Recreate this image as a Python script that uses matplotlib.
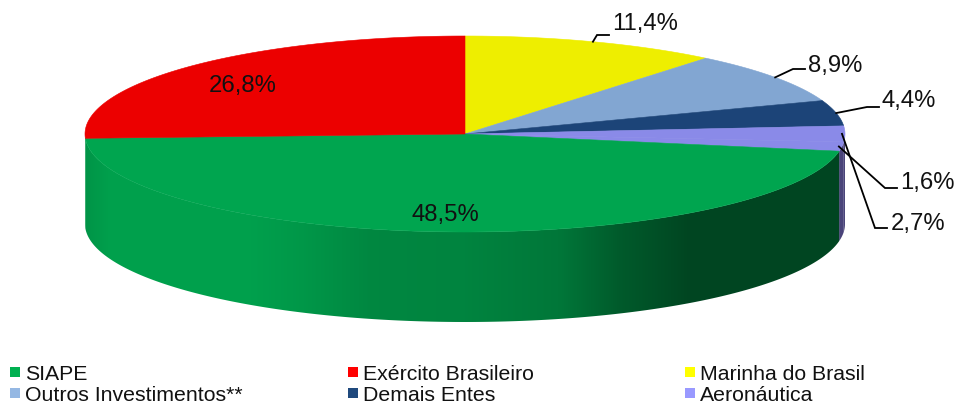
import numpy as np
import matplotlib
matplotlib.use('Agg')
import matplotlib.pyplot as plt
from matplotlib.patches import Polygon, Rectangle

plt.rcParams['font.family'] = ['Liberation Sans', 'DejaVu Sans']

# clockwise from the top of the pie
valores = [11.4, 8.9, 4.4, 2.7, 1.6, 48.5, 26.8]
rotulos = ['11,4%', '8,9%', '4,4%', '2,7%', '1,6%', '48,5%', '26,8%']
cores = ['#eeee00', '#82a6d2', '#1c4478', '#8a8ae8', '#8a8ae8', '#00a54f', '#ec0000']
laterais = ['#eeee00', '#82a6d2', '#1c4478', '#4a447a', '#4a447a', '#00a54f', '#00a54f']

legenda = ['SIAPE', 'Exército Brasileiro', 'Marinha do Brasil',
           'Outros Investimentos**', 'Demais Entes', 'Aeronáutica']
cores_legenda = ['#00b050', '#ff0000', '#ffff00', '#95b8e3', '#1f497d', '#9999ff']

cx, cy = 465, 135
rx, ry = 380, 98
altura = 90

# sombra da lateral, por posicao em x
sombra_x = [85, 110, 250, 300, 370, 465, 560, 620, 690, 845]
sombra_v = [0.90, 0.97, 0.97, 0.92, 0.82, 0.80, 0.72, 0.55, 0.42, 0.42]


def ponto(ang):
    return cx + rx * np.sin(ang), cy - ry * np.cos(ang)


fig = plt.figure(figsize=(9.56, 4.06), dpi=100)
ax = fig.add_axes([0, 0, 1, 1])
ax.axis('off')

limites = np.cumsum([0] + valores) / sum(valores) * 2 * np.pi

# lateral: gradiente recortado pela faixa de cada fatia
colunas = np.arange(cx - rx, cx + rx + 1)
for i in range(len(valores)):
    a0 = max(limites[i], np.pi / 2)
    a1 = min(limites[i + 1], 3 * np.pi / 2)
    if a1 <= a0:
        continue
    base = np.array(matplotlib.colors.to_rgb(laterais[i]))
    s = np.interp(colunas, sombra_x, sombra_v)
    if i in (3, 4):
        s = np.ones_like(s)
    grad = (s[:, None] * base)[None, :, :]
    x, y = ponto(np.linspace(a0, a1, 300))
    pts = list(zip(x, y)) + list(zip(x[::-1], y[::-1] + altura))
    faixa = Polygon(pts, fc='none', ec='none', transform=ax.transData)
    ax.add_patch(faixa)
    im = ax.imshow(grad, extent=(cx - rx, cx + rx, cy + ry + altura, cy - ry), aspect='auto',
                   interpolation='bilinear')
    im.set_clip_path(faixa)

ax.set_xlim(0, 956)
ax.set_ylim(406, 0)

# topo
for i in range(len(valores)):
    angs = np.linspace(limites[i], limites[i + 1], 200)
    x, y = ponto(angs)
    pts = [(cx, cy)] + list(zip(x, y))
    ax.add_patch(Polygon(pts, fc=cores[i], ec=cores[i], lw=0.4, zorder=3))

# rotulos com linha de chamada
pos_rotulos = [(645, 30), (835, 72), (909, 107), (918, 230), (927, 189), (445, 221), (243, 92)]
cotovelos = [(597, 36), (793, 70), (867, 108), (875, 229), (885, 189)]
for i, txt in enumerate(rotulos):
    ax.text(pos_rotulos[i][0], pos_rotulos[i][1], txt, fontsize=17.2, ha='center', va='baseline',
            color='#111111', zorder=5)
    if i < len(cotovelos):
        px, py = ponto((limites[i] + limites[i + 1]) / 2)
        ex, ey = cotovelos[i]
        ax.plot([px - 3 if i > 2 else px, ex, ex + 12], [py, ey, ey], color='black', lw=1.3, zorder=4,
                solid_joinstyle='miter')

# legenda
col_x = [10, 348, 685]
lin_y = [380, 401]
for i, nome in enumerate(legenda):
    lx = col_x[i % 3]
    ly = lin_y[i // 3]
    ax.add_patch(Rectangle((lx, ly - 12), 10, 10, fc=cores_legenda[i], ec='none'))
    ax.text(lx + 15, ly, nome, fontsize=15.3, ha='left', va='baseline', color='#111111')

fig.savefig('out.png', dpi=100)
